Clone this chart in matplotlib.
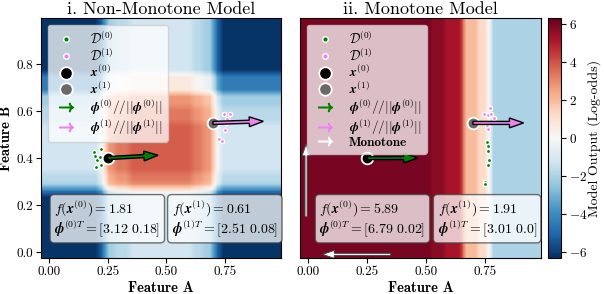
import matplotlib.pyplot as plt
import numpy as np
from matplotlib.lines import Line2D

plt.rcParams['font.family'] = 'cmr10'
plt.rcParams['mathtext.fontset'] = 'cm'
plt.rcParams['axes.formatter.use_mathtext'] = True

# --- data ---
# non-monotone model: additive step profiles along A and B
left_a_edges = [0.215, 0.24, 0.28, 0.34, 0.61, 0.66, 0.70, 0.73]
left_a_vals = [-3.1, -1.8, 0.9, 1.4, 1.9, 1.4, 0.9, -1.6, -3.1]
left_b_edges = [0.25, 0.27, 0.29, 0.34, 0.55, 0.62, 0.68, 0.76]
left_b_vals = [-3.1, -1.2, 0.9, 1.4, 1.9, 1.4, 0.9, -1.3, -3.1]
# monotone model: profile along A only
right_a_edges = [0.52, 0.58, 0.65, 0.665, 0.72, 0.76, 0.78]
right_a_vals = [6.0, 5.7, 5.2, 4.0, 2.0, 1.2, 0.0, -2.0]

x0 = [0.25, 0.40]
x1 = [0.70, 0.55]

left_d0_x = [0.19, 0.22, 0.205, 0.20, 0.22, 0.215, 0.195]
left_d0_y = [0.427, 0.437, 0.39, 0.363, 0.37, 0.405, 0.41]
left_d1_x = [0.745, 0.774, 0.76, 0.757, 0.752, 0.724, 0.74]
left_d1_y = [0.59, 0.587, 0.565, 0.548, 0.52, 0.48, 0.474]

right_d0_x = [0.76, 0.765, 0.765, 0.768, 0.762, 0.75, 0.752]
right_d0_y = [0.47, 0.45, 0.43, 0.39, 0.37, 0.30, 0.29]
right_d1_x = [0.774, 0.748, 0.765, 0.79, 0.778, 0.76, 0.765]
right_d1_y = [0.613, 0.59, 0.583, 0.57, 0.59, 0.536, 0.523]

left_phi0 = [3.12, 0.18]
left_phi1 = [2.51, 0.08]
right_phi0 = [6.79, 0.02]
right_phi1 = [3.01, 0.0]
left_f = [1.81, 0.61]
right_f = [5.89, 1.91]

titel = ["i. Non-Monotone Model", "ii. Monotone Model"]
ext = (-0.035, 0.99, -0.026, 0.996)
vlim = 6.3


def rozmyj(Z, n=5):
    # lekkie wygladzenie jak w oryginale
    k = np.ones(n) / n
    Zp = np.pad(Z, n // 2, mode='edge')
    Zp = np.apply_along_axis(lambda m: np.convolve(m, k, mode='valid'), 0, Zp)
    Zp = np.apply_along_axis(lambda m: np.convolve(m, k, mode='valid'), 1, Zp)
    return Zp


# grids
xs = np.linspace(ext[0], ext[1], 160)
ys = np.linspace(ext[2], ext[3], 160)
a = np.array(left_a_vals)[np.searchsorted(left_a_edges, xs)]
b = np.array(left_b_vals)[np.searchsorted(left_b_edges, ys)]
Z_left = rozmyj(b[:, None] + a[None, :])
r = np.array(right_a_vals)[np.searchsorted(right_a_edges, xs)]
Z_right = rozmyj(np.tile(r, (len(ys), 1)), 3)

fig = plt.figure(figsize=(6.04, 2.94), dpi=100)
ax1 = fig.add_axes([0.068, 0.122, 0.397, 0.816])
ax2 = fig.add_axes([0.497, 0.122, 0.399, 0.816])
cax = fig.add_axes([0.907, 0.122, 0.022, 0.816])

L = 0.215


def strzalka(ax, p, phi, fc):
    u = np.array(phi) / np.linalg.norm(phi)
    ax.arrow(p[0], p[1], L * u[0], L * u[1], width=0.013, head_width=0.042,
             head_length=0.06, length_includes_head=True, fc=fc, ec='black',
             lw=1, zorder=5)


def rysuj(ax, Z, d0x, d0y, d1x, d1y, phi0, phi1, f, tytul):
    im = ax.imshow(Z, extent=ext, origin='lower', cmap='RdBu_r', vmin=-vlim,
                   vmax=vlim, aspect='auto', interpolation='bilinear')
    ax.scatter(d0x, d0y, s=9, c='green', edgecolors='white', linewidths=1, zorder=3)
    ax.scatter(d1x, d1y, s=9, c='violet', edgecolors='white', linewidths=1, zorder=3)
    ax.scatter([x0[0]], [x0[1]], s=70, c='black', edgecolors='white', linewidths=1.3, zorder=4)
    ax.scatter([x1[0]], [x1[1]], s=70, c='dimgray', edgecolors='white', linewidths=1.3, zorder=4)
    strzalka(ax, x0, phi0, 'green')
    strzalka(ax, x1, phi1, 'violet')
    ax.set_xlim(ext[0], ext[1])
    ax.set_ylim(ext[2], ext[3])
    ax.set_xticks([0, 0.25, 0.5, 0.75])
    ax.set_xticklabels(['0.00', '0.25', '0.50', '0.75'])
    ax.set_title(tytul, fontsize=13, pad=3)
    ax.set_xlabel('Feature A', fontfamily='cmb10', fontsize=10.5, labelpad=2)
    ax.tick_params(labelsize=9.5, pad=2)
    t0 = "$f(\\mathbfit{x}^{(0)}) = %.2f$\n$\\mathbfit{\\phi}^{(0)T} = [%s\\ %s]$" % (
        f[0], phi0[0], phi0[1])
    t1 = "$f(\\mathbfit{x}^{(1)}) = %.2f$\n$\\mathbfit{\\phi}^{(1)T} = [%s\\ %s]$" % (
        f[1], phi1[0], phi1[1])
    return im, t0, t1


box = dict(boxstyle='round,pad=0.3', fc='white', alpha=0.75, ec='#444')

im, t0, t1 = rysuj(ax1, Z_left, left_d0_x, left_d0_y, left_d1_x, left_d1_y,
                   left_phi0, left_phi1, left_f, titel[0])
ax1.text(0.055, 0.105, t0, transform=ax1.transAxes, fontsize=10, bbox=box, zorder=6,
         linespacing=1.0)
ax1.text(0.545, 0.105, t1, transform=ax1.transAxes, fontsize=10, bbox=box, zorder=6,
         linespacing=1.0)
ax1.set_ylabel('Feature B', fontfamily='cmb10', fontsize=10.5, labelpad=3)
ax1.set_yticks([0, 0.2, 0.4, 0.6, 0.8])
ax1.set_yticklabels(['0.0', '0.2', '0.4', '0.6', '0.8'])

im, t0, t1 = rysuj(ax2, Z_right, right_d0_x, right_d0_y, right_d1_x, right_d1_y,
                   right_phi0, right_phi1, right_f, titel[1])
ax2.text(0.08, 0.105, t0, transform=ax2.transAxes, fontsize=10, bbox=box, zorder=6,
         linespacing=1.0)
ax2.text(0.57, 0.105, t1, transform=ax2.transAxes, fontsize=10, bbox=box, zorder=6,
         linespacing=1.0)
ax2.set_yticks([])

# monotone direction arrows
mono_start = [[-0.01, 0.15], [0.35, -0.01]]
mono_vec = [[0.0, 0.31], [-0.29, 0.0]]
for s, v in zip(mono_start, mono_vec):
    ax2.arrow(s[0], s[1], v[0], v[1], width=0.009, head_width=0.034, head_length=0.05,
              length_includes_head=True, fc='white', ec='#444', lw=0.7, zorder=5)

uchwyty = [
    Line2D([], [], marker='o', ls='', color='green', mec='white', ms=4, mew=1),
    Line2D([], [], marker='o', ls='', color='violet', mec='white', ms=4, mew=1),
    Line2D([], [], marker='o', ls='', color='black', mec='white', ms=9, mew=1.3),
    Line2D([], [], marker='o', ls='', color='dimgray', mec='white', ms=9, mew=1.3),
    Line2D([], [], marker='$\\rightarrow$', ls='', color='green', ms=10),
    Line2D([], [], marker='$\\rightarrow$', ls='', color='violet', ms=10),
]
podpisy = ['$\\mathcal{D}^{(0)}$', '$\\mathcal{D}^{(1)}$', '$\\mathbfit{x}^{(0)}$',
           '$\\mathbfit{x}^{(1)}$', '$\\mathbfit{\\phi}^{(0)}//||\\mathbfit{\\phi}^{(0)}||$',
           '$\\mathbfit{\\phi}^{(1)}//||\\mathbfit{\\phi}^{(1)}||$']
ax1.legend(uchwyty, podpisy, loc='upper left', fontsize=9.5, framealpha=0.75,
           labelspacing=0.0, borderaxespad=0.5, borderpad=0.4).set_zorder(7)
leg = ax2.legend(uchwyty + [Line2D([], [], marker='$\\rightarrow$', ls='', color='white', ms=10)],
                 podpisy + ['Monotone'], loc='upper left', fontsize=9.5, framealpha=0.75,
                 labelspacing=0.0, borderaxespad=0.5, borderpad=0.4)
leg.set_zorder(7)
leg.get_texts()[-1].set_fontfamily('cmb10')

cb = fig.colorbar(im, cax=cax)
cb.set_ticks([-6, -4, -2, 0, 2, 4, 6])
cb.ax.tick_params(labelsize=9.5, pad=2)
cb.set_label('Model Output (Log-odds)', fontsize=10, labelpad=0)

plt.savefig('out.png', dpi=100)
